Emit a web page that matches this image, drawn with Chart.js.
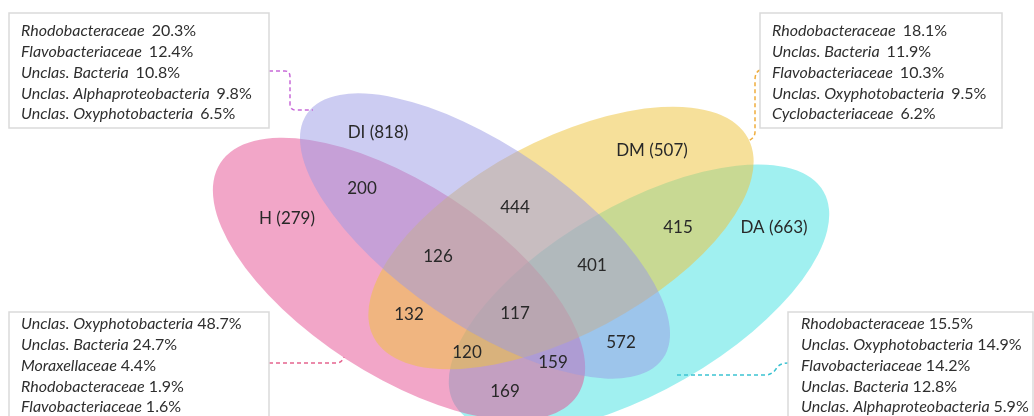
<!DOCTYPE html>
<html>
<head>
<meta charset="utf-8">
<script src="https://cdn.jsdelivr.net/npm/chart.js@4.4.1/dist/chart.umd.min.js"></script>
<style>
  html, body { margin: 0; padding: 0; background: #ffffff; }
  canvas { display: block; }
</style>
</head>
<body>
<canvas id="venn" width="1034" height="416"></canvas>
<script>
// ---- Data -------------------------------------------------------------
// Sets with the number of OTUs found only in that set
const setNames = ['H', 'DI', 'DM', 'DA'];
const setUnique = [279, 818, 507, 663];

// Shared regions: which sets they belong to, and their counts
const regionSets = [
  ['H', 'DI'], ['DI', 'DM'], ['DM', 'DA'], ['H', 'DI', 'DM'], ['DI', 'DM', 'DA'],
  ['H', 'DM'], ['H', 'DI', 'DM', 'DA'], ['H', 'DM', 'DA'], ['H', 'DI', 'DA'],
  ['DI', 'DA'], ['H', 'DA']
];
const regionCounts = [200, 444, 415, 126, 401, 132, 117, 120, 159, 572, 169];

// Five most abundant families per set (relative abundance, %)
const taxaDI = ['Rhodobacteraceae', 'Flavobacteriaceae', 'Unclas. Bacteria', 'Unclas. Alphaproteobacteria', 'Unclas. Oxyphotobacteria'];
const pctDI = [20.3, 12.4, 10.8, 9.8, 6.5];
const taxaDM = ['Rhodobacteraceae', 'Unclas. Bacteria', 'Flavobacteriaceae', 'Unclas. Oxyphotobacteria', 'Cyclobacteriaceae'];
const pctDM = [18.1, 11.9, 10.3, 9.5, 6.2];
const taxaH = ['Unclas. Oxyphotobacteria', 'Unclas. Bacteria', 'Moraxellaceae', 'Rhodobacteraceae', 'Flavobacteriaceae'];
const pctH = [48.7, 24.7, 4.4, 1.9, 1.6];
const taxaDA = ['Rhodobacteraceae', 'Unclas. Oxyphotobacteria', 'Flavobacteriaceae', 'Unclas. Bacteria', 'Unclas. Alphaproteobacteria'];
const pctDA = [15.5, 14.9, 14.2, 12.8, 5.9];

// ---- Layout (plot units: x 0..1034, y 0..416 top-down) -----------------
const ellipses = {
  H:  { cx: 399, cy: 279, rx: 213, ry: 96, rot: 33 },
  DI: { cx: 485, cy: 236, rx: 216, ry: 89, rot: 34.5 },
  DM: { cx: 561, cy: 238, rx: 212, ry: 97, rot: -28 },
  DA: { cx: 639, cy: 298, rx: 213, ry: 93, rot: -30 }
};
const drawOrder = ['DA', 'H', 'DM', 'DI'];
const fills = {
  H:  'rgba(229, 77, 145, 0.5)',
  DI: 'rgba(153, 153, 229, 0.5)',
  DM: 'rgba(238, 196, 62, 0.52)',
  DA: 'rgba(65, 225, 225, 0.5)'
};
const setLabelPos = { H: [287, 219], DI: [378, 133], DM: [652, 151], DA: [774, 228] };
const regionLabelPos = [
  [362, 189], [515, 208], [678, 228], [438, 257], [592, 266],
  [409, 315], [515, 314], [467, 353], [553, 363], [621, 343], [505, 392]
];

const boxes = [
  { set: 'DI', taxa: taxaDI, pct: pctDI, x0: 9,   y0: 13,  x1: 269,  y1: 128, tx: 21,  ty: 31,  gap: 7 },
  { set: 'DM', taxa: taxaDM, pct: pctDM, x0: 760, y0: 13,  x1: 1002, y1: 128, tx: 772, ty: 31,  gap: 7 },
  { set: 'H',  taxa: taxaH,  pct: pctH,  x0: 9,   y0: 312, x1: 269,  y1: 440, tx: 21,  ty: 324, gap: 4 },
  { set: 'DA', taxa: taxaDA, pct: pctDA, x0: 788, y0: 312, x1: 1033, y1: 440, tx: 801, ty: 324, gap: 4 }
];
const lineStep = 20.8;

// Dashed leader lines from the boxes to their ellipse
const leaders = {
  DI: { color: '#c86ad8', path: [['M', 269, 71], ['L', 285, 71], ['Q', 290, 71, 290, 77], ['L', 290, 104], ['Q', 290, 110, 296, 110], ['L', 313, 110]] },
  DM: { color: '#efad3c', path: [['M', 760, 70], ['Q', 755, 72, 755, 80], ['L', 755, 132], ['Q', 755, 138, 748, 141]] },
  H:  { color: '#e5648f', path: [['M', 269, 363], ['L', 336, 363], ['Q', 342, 363, 344, 357]] },
  DA: { color: '#3cc3d2', path: [['M', 677, 375], ['L', 765, 375], ['Q', 772, 375, 776, 369], ['Q', 779, 363, 788, 363]] }
};

const FONT = 'Lato, "Open Sans", sans-serif';

// ---- Drawing plugin ----------------------------------------------------
const vennPlugin = {
  id: 'venn',
  beforeDatasetsDraw(chart) {
    const { ctx, scales: { x, y } } = chart;
    ctx.save();
    ctx.fillStyle = '#ffffff';
    ctx.fillRect(0, 0, chart.width, chart.height);
    drawOrder.forEach(name => {
      const e = ellipses[name];
      const px = x.getPixelForValue(e.cx);
      const py = y.getPixelForValue(e.cy);
      const rx = Math.abs(x.getPixelForValue(e.cx + e.rx) - px);
      const ry = Math.abs(y.getPixelForValue(e.cy + e.ry) - py);
      ctx.beginPath();
      ctx.ellipse(px, py, rx, ry, e.rot * Math.PI / 180, 0, Math.PI * 2);
      ctx.fillStyle = fills[name];
      ctx.fill();
    });
    ctx.restore();
  },
  afterDatasetsDraw(chart) {
    const { ctx, scales: { x, y } } = chart;
    ctx.save();
    ctx.fillStyle = '#282828';
    ctx.textAlign = 'center';
    ctx.textBaseline = 'middle';
    ctx.font = '17px ' + FONT;
    chart.data.datasets.forEach((ds, di) => {
      const meta = chart.getDatasetMeta(di);
      meta.data.forEach((pt, i) => {
        ctx.fillText(ds.data[i].label, pt.x, pt.y);
      });
    });

    // leader lines
    ctx.lineWidth = 1.5;
    ctx.setLineDash([4, 3]);
    Object.keys(leaders).forEach(k => {
      const l = leaders[k];
      ctx.strokeStyle = l.color;
      ctx.beginPath();
      l.path.forEach(seg => {
        const p = seg.slice(1);
        const X = i => x.getPixelForValue(p[i]);
        const Y = i => y.getPixelForValue(p[i]);
        if (seg[0] === 'M') ctx.moveTo(X(0), Y(1));
        else if (seg[0] === 'L') ctx.lineTo(X(0), Y(1));
        else ctx.quadraticCurveTo(X(0), Y(1), X(2), Y(3));
      });
      ctx.stroke();
    });
    ctx.setLineDash([]);

    // taxonomy boxes
    boxes.forEach(b => {
      const bx0 = x.getPixelForValue(b.x0), bx1 = x.getPixelForValue(b.x1);
      const by0 = y.getPixelForValue(b.y0), by1 = y.getPixelForValue(b.y1);
      ctx.fillStyle = '#ffffff';
      ctx.fillRect(bx0, by0, bx1 - bx0, by1 - by0);
      ctx.strokeStyle = '#dadada';
      ctx.lineWidth = 1.5;
      ctx.strokeRect(bx0, by0, bx1 - bx0, by1 - by0);
      ctx.textAlign = 'left';
      ctx.textBaseline = 'middle';
      ctx.fillStyle = '#2e2e2e';
      b.taxa.forEach((t, i) => {
        const tx = x.getPixelForValue(b.tx);
        const ty = y.getPixelForValue(b.ty + i * lineStep);
        ctx.font = 'italic 16px ' + FONT;
        ctx.fillText(t, tx, ty);
        const w = ctx.measureText(t).width;
        ctx.font = '16px ' + FONT;
        ctx.fillText(b.pct[i].toFixed(1) + '%', tx + w + b.gap, ty);
      });
    });
    ctx.restore();
  }
};

// ---- Chart ---------------------------------------------------------------
const setPoints = setNames.map((n, i) => ({
  x: setLabelPos[n][0], y: setLabelPos[n][1], label: n + ' (' + setUnique[i] + ')'
}));
const regionPoints = regionCounts.map((c, i) => ({
  x: regionLabelPos[i][0], y: regionLabelPos[i][1], label: String(c), sets: regionSets[i]
}));

new Chart(document.getElementById('venn'), {
  type: 'scatter',
  data: {
    datasets: [
      { label: 'sets', data: setPoints, pointRadius: 0, pointHoverRadius: 0 },
      { label: 'shared', data: regionPoints, pointRadius: 0, pointHoverRadius: 0 }
    ]
  },
  options: {
    responsive: false,
    animation: false,
    devicePixelRatio: 1,
    events: [],
    layout: { padding: 0 },
    scales: {
      x: { type: 'linear', min: 0, max: 1034, display: false },
      y: { type: 'linear', min: 0, max: 416, reverse: true, display: false }
    },
    plugins: { legend: { display: false }, tooltip: { enabled: false } }
  },
  plugins: [vennPlugin]
});
</script>
</body>
</html>
